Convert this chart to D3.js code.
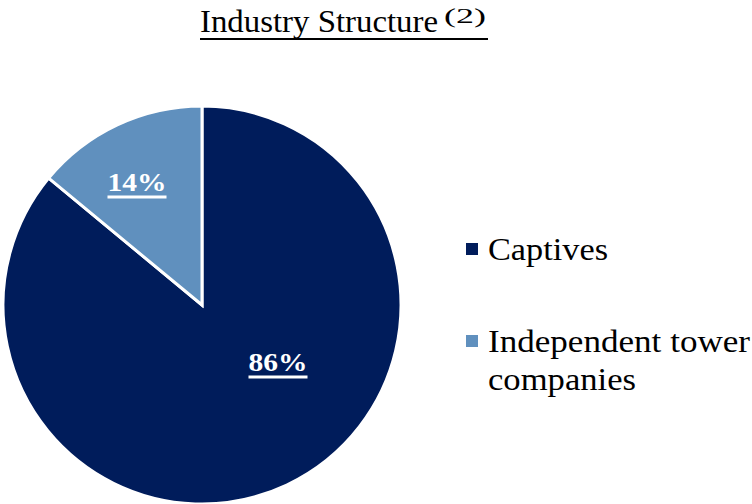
<!DOCTYPE html>
<html><head><meta charset="utf-8">
<script src="https://cdn.jsdelivr.net/npm/d3@7"></script>
</head><body style="margin:0">
<svg id="c" width="752" height="504"></svg>
<script>
const categories = ["Captives", "Independent tower companies"];
const values = [86, 14];
const labels = ["86%", "14%"];
const colors = ["#001C5B", "#6090BE"];

const FONT = '"Liberation Serif", Tinos, "Times New Roman", serif';
const svg = d3.select("#c");
const cx = 202, cy = 305, r = 199;

// Title
svg.append("text").attr("x", 200).attr("y", 32)
  .style("font-family", FONT).attr("font-size", 32).attr("fill", "#000")
  .attr("textLength", 238).attr("lengthAdjust", "spacingAndGlyphs")
  .text("Industry Structure");
svg.append("text").attr("x", 444).attr("y", 23)
  .style("font-family", FONT).attr("font-size", 20).attr("fill", "#000")
  .attr("textLength", 42).attr("lengthAdjust", "spacingAndGlyphs")
  .text("(2)");
svg.append("line").attr("x1", 200).attr("x2", 488).attr("y1", 39).attr("y2", 39)
  .attr("stroke", "#000").attr("stroke-width", 2);

const pie = d3.pie().sort(null).startAngle(0).endAngle(2 * Math.PI)(values);
const arc = d3.arc().innerRadius(0).outerRadius(r);
const g = svg.append("g").attr("transform", `translate(${cx},${cy})`);
g.selectAll("path").data(pie).join("path")
  .attr("d", arc).attr("fill", (d, i) => colors[i])
  .attr("stroke", "#fff").attr("stroke-width", 3).attr("stroke-linejoin", "miter");

const labelPos = [[76, 66], [-65, -114]];
const labelW = 59;
pie.forEach((d, i) => {
  g.append("text").attr("x", labelPos[i][0] - labelW / 2).attr("y", labelPos[i][1])
    .attr("font-weight", "bold").style("font-family", FONT)
    .attr("font-size", 26).attr("fill", "#fff")
    .attr("textLength", labelW).attr("lengthAdjust", "spacingAndGlyphs")
    .text(labels[i]);
  g.append("line").attr("x1", labelPos[i][0] - labelW / 2).attr("x2", labelPos[i][0] + labelW / 2)
    .attr("y1", labelPos[i][1] + 6).attr("y2", labelPos[i][1] + 6)
    .attr("stroke", "#fff").attr("stroke-width", 3);
});

// Legend
const legendRows = [[categories[0]], ["Independent tower", "companies"]];
const legendWidths = [[120], [262, 148]];
const legendY = [260, 352];
legendRows.forEach((lines, i) => {
  svg.append("rect").attr("x", 466).attr("y", legendY[i] - 17).attr("width", 12).attr("height", 12)
    .attr("fill", colors[i]);
  lines.forEach((l, j) => {
    svg.append("text").attr("x", 488).attr("y", legendY[i] + j * 38)
      .style("font-family", FONT).attr("font-size", 32).attr("fill", "#000")
      .attr("textLength", legendWidths[i][j]).attr("lengthAdjust", "spacingAndGlyphs")
      .text(l);
  });
});
</script>
</body></html>
